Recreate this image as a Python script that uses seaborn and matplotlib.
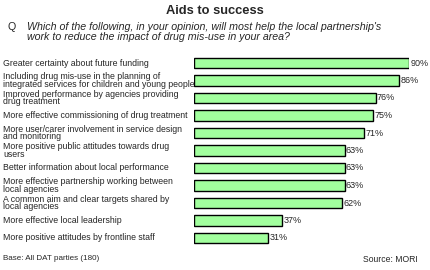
import matplotlib
matplotlib.use("Agg")
import matplotlib.pyplot as plt
import seaborn as sns
import pandas as pd
import matplotlib.transforms as mtransforms

categories = [
    "Greater certainty about future funding",
    "Including drug mis-use in the planning of\nintegrated services for children and young people",
    "Improved performance by agencies providing\ndrug treatment",
    "More effective commissioning of drug treatment",
    "More user/carer involvement in service design\nand monitoring",
    "More positive public attitudes towards drug\nusers",
    "Better information about local performance",
    "More effective partnership working between\nlocal agencies",
    "A common aim and clear targets shared by\nlocal agencies",
    "More effective local leadership",
    "More positive attitudes by frontline staff",
]
values = [90, 86, 76, 75, 71, 63, 63, 63, 62, 37, 31]
value_labels = ["90%", "86%", "76%", "75%", "71%", "63%", "63%", "63%", "62%", "37%", "31%"]

title = "Aids to success"
question = ("Which of the following, in your opinion, will most help the local partnership's\n"
            "work to reduce the impact of drug mis-use in your area?")
base_note = "Base: All DAT parties (180)"
source_note = "Source: MORI"

sns.set_theme(style="white")
plt.rcParams['font.family'] = ['Liberation Sans', 'DejaVu Sans']

W, H = 430, 270
fig = plt.figure(figsize=(W / 100, H / 100), dpi=100)
ax_left = 194 / W
ax_w = 215 / W
ax_top = 54.25
ax_bot = 246.75
ax = fig.add_axes([ax_left, (H - ax_bot) / H, ax_w, (ax_bot - ax_top) / H])

df = pd.DataFrame({"cat": categories, "val": values})
sns.barplot(data=df, x="val", y="cat", ax=ax, color="#a2ff9e", orient="h",
            width=0.62, edgecolor="black", linewidth=1.0, saturation=1)
ax.set_xlim(0, 90)
ax.set_xlabel("")
ax.set_ylabel("")
ax.set_xticks([])
ax.set_yticks([])
for s in ax.spines.values():
    s.set_visible(False)

for i, (v, lab) in enumerate(zip(values, value_labels)):
    ax.text(v + 0.6, i, lab, va="center", ha="left", fontsize=6.5, clip_on=False)

trans = mtransforms.blended_transform_factory(fig.transFigure, ax.transData)
for i, c in enumerate(categories):
    ax.text(3 / W, i, c, transform=trans, va="center", ha="left",
            fontsize=6.3, linespacing=0.85)

fig.text(215 / W, 1 - 11 / H, title, ha="center", va="center",
         fontsize=9.3, fontweight="bold")
fig.text(8 / W, 1 - 27.5 / H, "Q", ha="left", va="center", fontsize=7.7)
fig.text(27 / W, 1 - 32.5 / H, question, ha="left", va="center",
         fontsize=7.7, style="italic", linespacing=1.0)
fig.text(3 / W, 1 - 259 / H, base_note, ha="left", va="center", fontsize=5.8)
fig.text(418 / W, 1 - 259 / H, source_note, ha="right", va="center", fontsize=6.2)

fig.savefig("out.png", dpi=100)
